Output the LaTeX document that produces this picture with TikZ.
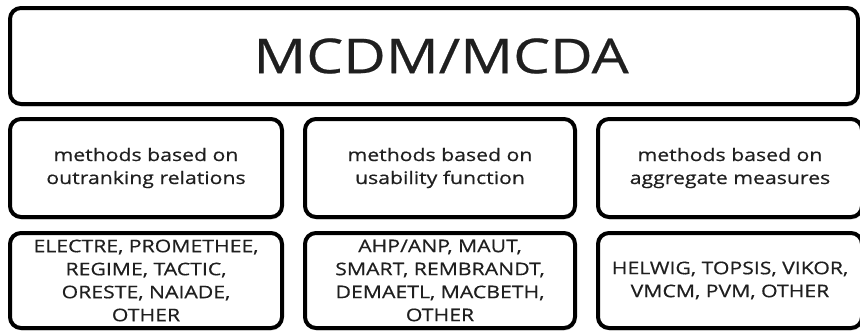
\documentclass[tikz,border=0pt]{standalone}
\usepackage{fontspec}
\setmainfont[FakeStretch=1.22,FakeBold=0.5]{Open Sans}
\usetikzlibrary{shadows}
\begin{document}
\begin{tikzpicture}[x=1pt,y=-1pt,
  box/.style={draw=black, line width=4pt, rounded corners=11pt, fill=white,
    drop shadow={opacity=0.3, shadow xshift=0.8pt, shadow yshift=-2.5pt},
    align=center, inner sep=0pt, text=black!88},
  small/.style={font=\fontsize{17.4}{23}\selectfont},
  big/.style={font=\fontsize{48}{50}\selectfont}
]
\useasboundingbox (0,0) rectangle (860,332);
\node[box, big, minimum width=848pt, minimum height=96pt] (top) at (434,56) {\hspace*{14pt}MCDM/MCDA};
\node[box, small, minimum width=272pt, minimum height=98pt] (c1) at (146,168) {methods based on\\outranking relations};
\node[box, small, minimum width=270pt, minimum height=98pt] (c2) at (440,168) {methods based on\\usability function};
\node[box, small, minimum width=264pt, minimum height=98pt] (c3) at (730,168) {methods based on\\aggregate measures};
\node[box, small, minimum width=272pt, minimum height=95pt] (m1) at (146,280.5) {ELECTRE, PROMETHEE,\\REGIME, TACTIC,\\ORESTE, NAIADE,\\OTHER};
\node[box, small, minimum width=270pt, minimum height=95pt] (m2) at (440,280.5) {AHP/ANP, MAUT,\\SMART, REMBRANDT,\\DEMAETL, MACBETH,\\OTHER};
\node[box, small, minimum width=264pt, minimum height=95pt] (m3) at (730,280.5) {HELWIG, TOPSIS, VIKOR,\\VMCM, PVM, OTHER};
\end{tikzpicture}
\end{document}
